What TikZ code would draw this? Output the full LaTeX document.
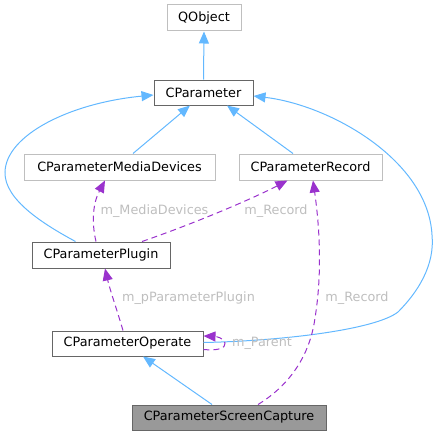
\documentclass[tikz,border=0pt]{standalone}
\usepackage{fontspec}
\setmainfont{DejaVu Sans}
\usetikzlibrary{arrows.meta,calc}
\definecolor{edgeblue}{HTML}{63B8FF}
\definecolor{edgepurple}{HTML}{9A32CD}
\definecolor{lightborder}{HTML}{BFBFBF}
\definecolor{darkborder}{HTML}{666666}
\definecolor{labelgray}{HTML}{BEBEBE}
\definecolor{fillgray}{HTML}{999999}
\begin{document}
\begin{tikzpicture}[x=1pt,y=-1pt,
  cls/.style={draw=darkborder, line width=1pt, fill=white, inner sep=0pt,
    font=\fontsize{12.8}{15}\selectfont, text=black},
  extcls/.style={cls, draw=lightborder},
  curcls/.style={cls, fill=fillgray},
  inh/.style={draw=edgeblue, line width=1pt, -{Triangle[length=12pt,width=10pt]}},
  use/.style={draw=edgepurple, line width=1pt, dash pattern=on 6pt off 4pt,
    -{Triangle[length=12pt,width=10pt]}},
  lbl/.style={text=labelgray, font=\fontsize{12.8}{15}\selectfont, inner sep=0pt}]
\useasboundingbox (0,0) rectangle (436,436);

\node[extcls, minimum width=74pt, minimum height=26pt] (qobject) at (204,18) {QObject};
\node[cls, minimum width=99pt, minimum height=25pt] (cparam) at (203.5,92.5) {CParameter};
\node[extcls, minimum width=191pt, minimum height=26pt] (media) at (119.5,167) {CParameterMediaDevices};
\node[extcls, minimum width=143pt, minimum height=26pt] (record) at (310.5,167) {CParameterRecord};
\node[cls, minimum width=138pt, minimum height=26pt] (plugin) at (101,255) {CParameterPlugin};
\node[cls, minimum width=151pt, minimum height=25pt] (operate) at (127.5,343.5) {CParameterOperate};
\node[curcls, minimum width=194pt, minimum height=25pt] (screen) at (229,417.5) {CParameterScreenCapture};

% inheritance edges
\draw[inh] (cparam.north) -- (qobject.south);
\draw[inh] ($(media.north)+(13.5,0)$) -- ($(cparam.south)+(-13.5,0)$);
\draw[inh] ($(record.north)+(-17.5,0)$) -- ($(cparam.south)+(23.5,0)$);
\draw[inh] ($(plugin.north west)+(44,0)$) .. controls (45,225) and (4,200) .. (5,172)
  .. controls (6,135) and (70,103) .. ($(cparam.west)+(0,2.5)$);
\draw[inh] ($(operate.east)+(0,-1)$) .. controls (280,341) and (375,330) .. (398,312)
  .. controls (418,292) and (435,265) .. (432,235)
  .. controls (428,160) and (330,105) .. ($(cparam.east)+(0,3.5)$);
\draw[inh] ($(screen.north)+(-17,0)$) -- ($(operate.south)+(15.5,0)$);

% usage edges
\draw[use] ($(plugin.north)+(-5,0)$) .. controls (92,225) and (92,205) .. ($(media.south)+(-14.5,0)$);
\draw[use] ($(plugin.north)+(41,0)$) .. controls (190,225) and (250,200) .. ($(record.south)+(-23,0)$);
\draw[use] ($(operate.north)+(-4.5,0)$) .. controls (117,310) and (110,290) .. ($(plugin.south)+(4,0)$);
\draw[use] ($(operate.east)+(0,6)$) .. controls (218,351) and (226,348) .. (225,343)
  .. controls (224,338) and (216,336.5) .. ($(operate.east)+(0,-7.5)$);
\draw[use] ($(screen.north)+(29,0)$) .. controls (290,385) and (310,355) .. (315,318)
  .. controls (322,275) and (320,230) .. ($(record.south)+(2.5,0)$);

% labels
\node[lbl] (lmedia) at (154.5,211) {m\_MediaDevices};
\node[lbl] (lrec1) at (276,211) {m\_Record};
\node[lbl] (lplug) at (188.5,298) {m\_pParameterPlugin};
\node[lbl] (lparent) at (262,343) {m\_Parent};
\node[lbl] (lrec2) at (357,298) {m\_Record};
\end{tikzpicture}
\end{document}
